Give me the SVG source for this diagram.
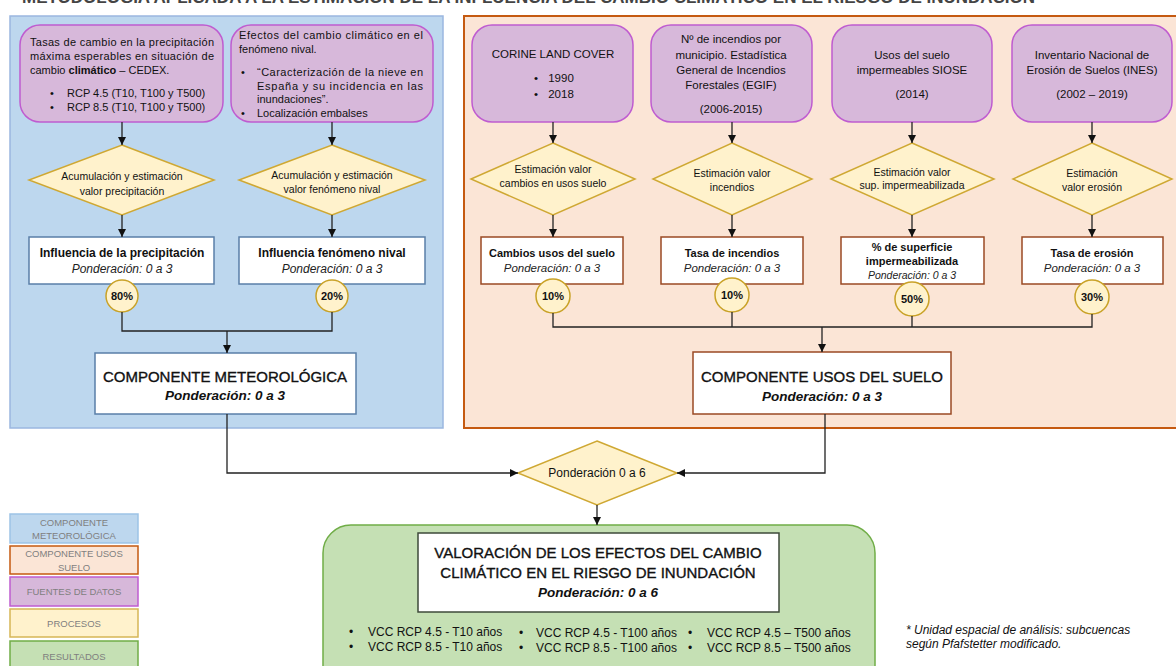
<svg xmlns="http://www.w3.org/2000/svg" width="1176" height="666" viewBox="0 0 1176 666">
<style>
text{font-family:"Liberation Sans",Arial,sans-serif;fill:#111}
.src{fill:#D7B8DA;stroke:#BF5CD0;stroke-width:1.5}
.dia{fill:#FFF2CC;stroke:#CFA833;stroke-width:1.5}
.cir{fill:#FFF2CC;stroke:#C9A227;stroke-width:1.5}
.wb{fill:#fff;stroke:#5A7FA8;stroke-width:1.5}
.wo{fill:#fff;stroke:#9A4A24;stroke-width:1.5}
.s11{font-size:11px}
.s115{font-size:11.5px;text-anchor:middle}
.d{font-size:10.5px;text-anchor:middle}
.bt{font-size:12px;font-weight:bold;text-anchor:middle}
.ot{font-size:11px;font-weight:bold;text-anchor:middle}
.it{font-size:12px;font-style:italic;text-anchor:middle;fill:#222}
.oit{font-size:11.5px;font-style:italic;text-anchor:middle;fill:#222}
.pc{font-size:11px;font-weight:bold;text-anchor:middle}
.big{font-size:15px;text-anchor:middle;stroke:#111;stroke-width:0.35}
.bi{font-size:13.5px;font-weight:bold;font-style:italic;text-anchor:middle}
.lg{font-size:9.5px;text-anchor:middle;fill:#7F7F7F}
.conn path{fill:none;stroke:#222;stroke-width:1.3}
</style>
<defs>
<marker id="ah" markerWidth="8" markerHeight="8" refX="8" refY="4" orient="auto" markerUnits="userSpaceOnUse">
<path d="M0,0 L8,4 L0,8 z" fill="#111"/>
</marker>
</defs>
<rect width="1176" height="666" fill="#fff"/>
<text x="22" y="3" style="font-size:17px;font-weight:bold;fill:#444">METODOLOGÍA APLICADA A LA ESTIMACIÓN DE LA INFLUENCIA DEL CAMBIO CLIMÁTICO EN EL RIESGO DE INUNDACIÓN</text>

<g id="panel-meteo"><rect x="10" y="16" width="433" height="412" fill="#BDD7EE" stroke="#9BB7E0" stroke-width="1.5"/></g>
<g id="panel-suelo"><rect x="464" y="16" width="730" height="412" fill="#FBE5D6" stroke="#C55A11" stroke-width="2"/></g>

<g id="src-precip">
<rect class="src" x="20" y="25" width="203" height="97" rx="20"/>
<text class="s11" x="30" y="46" textLength="184" lengthAdjust="spacing">Tasas de cambio en la precipitación</text>
<text class="s11" x="30" y="60" textLength="184" lengthAdjust="spacing">máxima esperables en situación de</text>
<text class="s11" x="30" y="74">cambio <tspan font-weight="bold">climático</tspan> – CEDEX.</text>
<text class="s11" x="50" y="97">•</text><text class="s11" x="67" y="97">RCP 4.5 (T10, T100 y T500)</text>
<text class="s11" x="50" y="111">•</text><text class="s11" x="67" y="111">RCP 8.5 (T10, T100 y T500)</text>
</g>
<g id="src-nival">
<rect class="src" x="231" y="25" width="202" height="97" rx="20"/>
<text class="s11" x="239" y="39" textLength="184" lengthAdjust="spacing">Efectos del cambio climático en el</text>
<text class="s11" x="239" y="53">fenómeno nival.</text>
<text class="s11" x="241" y="76">•</text><text class="s11" x="257" y="76" textLength="166" lengthAdjust="spacing">“Caracterización de la nieve en</text>
<text class="s11" x="257" y="90" textLength="166" lengthAdjust="spacing">España y su incidencia en las</text>
<text class="s11" x="257" y="103">inundaciones”.</text>
<text class="s11" x="241" y="117">•</text><text class="s11" x="257" y="117">Localización embalses</text>
</g>

<g id="src-corine">
<rect class="src" x="472" y="25" width="161" height="97" rx="20"/>
<text class="s115" x="553" y="58">CORINE LAND COVER</text>
<text class="s115" x="536" y="82">•</text><text class="s115" x="561" y="82">1990</text>
<text class="s115" x="536" y="98">•</text><text class="s115" x="561" y="98">2018</text>
</g>
<g id="src-egif">
<rect class="src" x="651" y="25" width="161" height="97" rx="20"/>
<text class="s115" x="731" y="43">Nº de incendios por</text>
<text class="s115" x="731" y="59">municipio. Estadística</text>
<text class="s115" x="731" y="74">General de Incendios</text>
<text class="s115" x="731" y="89">Forestales (EGIF)</text>
<text class="s115" x="731" y="113">(2006-2015)</text>
</g>
<g id="src-siose">
<rect class="src" x="832" y="25" width="160" height="97" rx="20"/>
<text class="s115" x="912" y="59">Usos del suelo</text>
<text class="s115" x="912" y="74">impermeables SIOSE</text>
<text class="s115" x="912" y="98">(2014)</text>
</g>
<g id="src-ines">
<rect class="src" x="1012" y="25" width="160" height="97" rx="20"/>
<text class="s115" x="1092" y="59">Inventario Nacional de</text>
<text class="s115" x="1092" y="74">Erosión de Suelos (INES)</text>
<text class="s115" x="1092" y="98">(2002 – 2019)</text>
</g>

<g id="proc-precip">
<polygon class="dia" points="122,145 214,180 122,215 29,180"/>
<text class="d" x="122" y="180">Acumulación y estimación</text>
<text class="d" x="122" y="195">valor precipitación</text>
</g>
<g id="proc-nival">
<polygon class="dia" points="332,145 425,180 332,215 239,180"/>
<text class="d" x="332" y="179">Acumulación y estimación</text>
<text class="d" x="332" y="193">valor fenómeno nival</text>
</g>
<g id="proc-cambios">
<polygon class="dia" points="553,143 635,179 553,215 471,179"/>
<text class="d" x="553" y="173">Estimación valor</text>
<text class="d" x="553" y="187">cambios en usos suelo</text>
</g>
<g id="proc-incendios">
<polygon class="dia" points="732,143 812,179 732,215 653,179"/>
<text class="d" x="732" y="177">Estimación valor</text>
<text class="d" x="732" y="191">incendios</text>
</g>
<g id="proc-imper">
<polygon class="dia" points="912,143 994,179 912,215 831,179"/>
<text class="d" x="912" y="176">Estimación valor</text>
<text class="d" x="912" y="189">sup. impermeabilizada</text>
</g>
<g id="proc-erosion">
<polygon class="dia" points="1092,143 1172,179 1092,215 1013,179"/>
<text class="d" x="1092" y="177">Estimación</text>
<text class="d" x="1092" y="191">valor erosión</text>
</g>

<g id="res-precip">
<rect class="wb" x="29" y="237" width="185" height="47"/>
<text class="bt" x="122" y="257">Influencia de la precipitación</text>
<text class="it" x="122" y="273">Ponderación: 0 a 3</text>
</g>
<g id="res-nival">
<rect class="wb" x="239" y="237" width="186" height="47"/>
<text class="bt" x="332" y="257">Influencia fenómeno nival</text>
<text class="it" x="332" y="273">Ponderación: 0 a 3</text>
</g>
<g id="res-cambios">
<rect class="wo" x="481" y="237" width="142" height="47"/>
<text class="ot" x="552" y="257">Cambios usos del suelo</text>
<text class="oit" x="552" y="272">Ponderación: 0 a 3</text>
</g>
<g id="res-incendios">
<rect class="wo" x="661" y="237" width="142" height="47"/>
<text class="ot" x="732" y="257">Tasa de incendios</text>
<text class="oit" x="732" y="272">Ponderación: 0 a 3</text>
</g>
<g id="res-imper">
<rect class="wo" x="841" y="237" width="143" height="47"/>
<text class="ot" x="912" y="251">% de superficie</text>
<text class="ot" x="912" y="265">impermeabilizada</text>
<text class="oit" x="912" y="279" style="font-size:10.5px">Ponderación: 0 a 3</text>
</g>
<g id="res-erosion">
<rect class="wo" x="1022" y="237" width="141" height="47"/>
<text class="ot" x="1092" y="257">Tasa de erosión</text>
<text class="oit" x="1092" y="272">Ponderación: 0 a 3</text>
</g>

<g id="w80"><circle class="cir" cx="122" cy="296" r="16"/><text class="pc" x="122" y="300">80%</text></g>
<g id="w20"><circle class="cir" cx="332" cy="296" r="16"/><text class="pc" x="332" y="300">20%</text></g>
<g id="w10a"><circle class="cir" cx="553" cy="296" r="17"/><text class="pc" x="553" y="300">10%</text></g>
<g id="w10b"><circle class="cir" cx="732" cy="295" r="17"/><text class="pc" x="732" y="299">10%</text></g>
<g id="w50"><circle class="cir" cx="912" cy="299" r="17"/><text class="pc" x="912" y="303">50%</text></g>
<g id="w30"><circle class="cir" cx="1092" cy="297" r="17"/><text class="pc" x="1092" y="301">30%</text></g>

<g id="comp-meteo">
<rect class="wb" x="95" y="353" width="261" height="61"/>
<text class="big" x="225" y="382">COMPONENTE METEOROLÓGICA</text>
<text class="bi" x="225" y="400">Ponderación: 0 a 3</text>
</g>
<g id="comp-suelo">
<rect class="wo" x="693" y="352" width="258" height="62"/>
<text class="big" x="822" y="382">COMPONENTE USOS DEL SUELO</text>
<text class="bi" x="822" y="401">Ponderación: 0 a 3</text>
</g>

<g id="pond06">
<polygon class="dia" points="597,441 677,473 597,505 518,473"/>
<text x="597" y="477" style="font-size:12px;text-anchor:middle">Ponderación 0 a 6</text>
</g>

<g id="resultado">
<rect x="323" y="525" width="552" height="170" rx="28" fill="#C5E0B4" stroke="#70AD47" stroke-width="1.5"/>
<rect x="418" y="533" width="361" height="79" fill="#fff" stroke="#3E4A3A" stroke-width="1.5"/>
<text class="big" x="598" y="558">VALORACIÓN DE LOS EFECTOS DEL CAMBIO</text>
<text class="big" x="598" y="578">CLIMÁTICO EN EL RIESGO DE INUNDACIÓN</text>
<text class="bi" x="598" y="597">Ponderación: 0 a 6</text>
<g style="font-size:12px">
<text x="349" y="636">•</text><text x="368" y="636">VCC RCP 4.5 - T10 años</text>
<text x="349" y="651">•</text><text x="368" y="651">VCC RCP 8.5 - T10 años</text>
<text x="519" y="637">•</text><text x="536" y="637">VCC RCP 4.5 - T100 años</text>
<text x="519" y="652">•</text><text x="536" y="652">VCC RCP 8.5 - T100 años</text>
<text x="688" y="637">•</text><text x="707" y="637">VCC RCP 4.5 – T500 años</text>
<text x="688" y="652">•</text><text x="707" y="652">VCC RCP 8.5 – T500 años</text>
</g>
</g>

<g id="legend">
<rect x="10" y="514" width="128" height="29" fill="#BDD7EE" stroke="#9DC3E6" stroke-width="1.5"/>
<text class="lg" x="74" y="526">COMPONENTE</text><text class="lg" x="74" y="539">METEOROLÓGICA</text>
<rect x="10" y="546" width="128" height="28" fill="#FBE5D6" stroke="#C55A11" stroke-width="1.5"/>
<text class="lg" x="74" y="557">COMPONENTE USOS</text><text class="lg" x="74" y="571">SUELO</text>
<rect x="10" y="577" width="128" height="29" fill="#D7B8DA" stroke="#BF5CD0" stroke-width="1.5"/>
<text class="lg" x="74" y="595">FUENTES DE DATOS</text>
<rect x="10" y="609" width="128" height="28" fill="#FFF2CC" stroke="#D6B656" stroke-width="1.5"/>
<text class="lg" x="74" y="627">PROCESOS</text>
<rect x="10" y="641" width="128" height="40" fill="#C5E0B4" stroke="#70AD47" stroke-width="1.5"/>
<text class="lg" x="74" y="660">RESULTADOS</text>
</g>

<g id="nota" style="font-size:12px;font-style:italic">
<text x="906" y="634" fill="#333">* Unidad espacial de análisis: subcuencas</text>
<text x="906" y="648" fill="#333">según Pfafstetter modificado.</text>
</g>

<g class="conn" id="connectors">
<path d="M122,122 V145" marker-end="url(#ah)"/>
<path d="M332,122 V145" marker-end="url(#ah)"/>
<path d="M122,215 V237" marker-end="url(#ah)"/>
<path d="M332,215 V237" marker-end="url(#ah)"/>
<path d="M553,122 V143" marker-end="url(#ah)"/>
<path d="M732,122 V143" marker-end="url(#ah)"/>
<path d="M912,122 V143" marker-end="url(#ah)"/>
<path d="M1092,122 V143" marker-end="url(#ah)"/>
<path d="M553,215 V237" marker-end="url(#ah)"/>
<path d="M732,215 V237" marker-end="url(#ah)"/>
<path d="M912,215 V237" marker-end="url(#ah)"/>
<path d="M1092,215 V237" marker-end="url(#ah)"/>
<path d="M122,312 V331 H332 V312"/>
<path d="M227,331 V353" marker-end="url(#ah)"/>
<path d="M553,313 V327 H1092 V314"/>
<path d="M732,312 V327"/>
<path d="M912,316 V327"/>
<path d="M822,327 V352" marker-end="url(#ah)"/>
<path d="M227,414 V473 H518" marker-end="url(#ah)"/>
<path d="M825,414 V473 H677" marker-end="url(#ah)"/>
<path d="M597,505 V525" marker-end="url(#ah)"/>
</g>
</svg>
